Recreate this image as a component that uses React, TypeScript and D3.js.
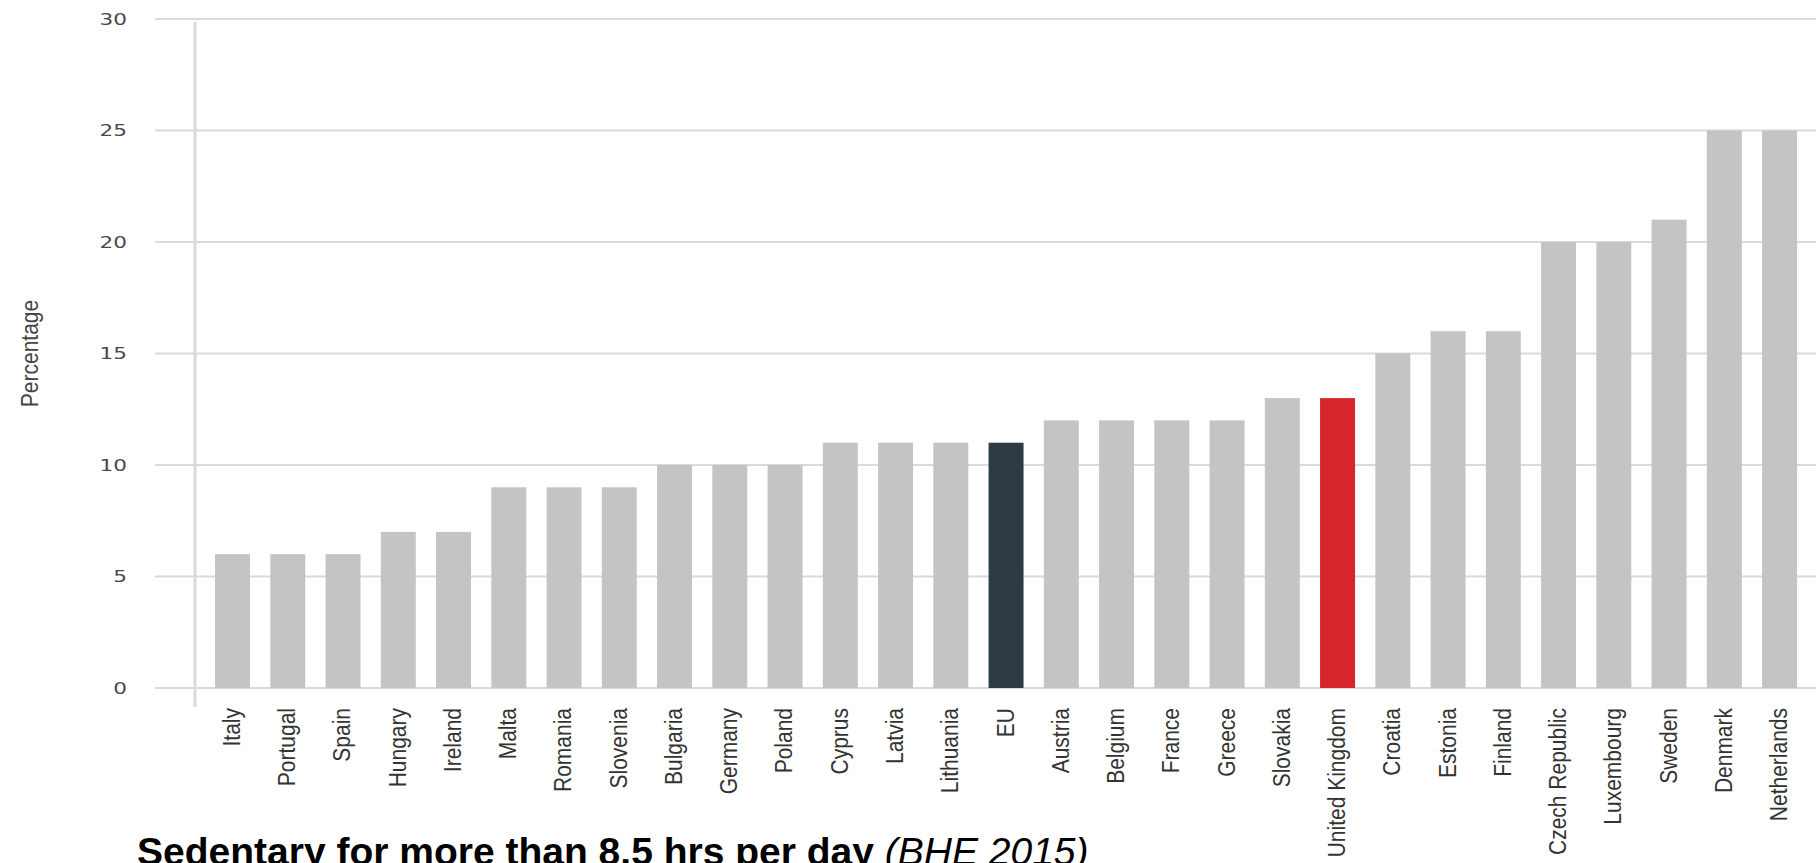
import React from "react";
import * as d3 from "d3";

const countries = [
  "Italy", "Portugal", "Spain", "Hungary", "Ireland", "Malta", "Romania", "Slovenia",
  "Bulgaria", "Germany", "Poland", "Cyprus", "Latvia", "Lithuania", "EU", "Austria",
  "Belgium", "France", "Greece", "Slovakia", "United Kingdom", "Croatia", "Estonia",
  "Finland", "Czech Republic", "Luxembourg", "Sweden", "Denmark", "Netherlands",
];
const values = [6, 6, 6, 7, 7, 9, 9, 9, 10, 10, 10, 11, 11, 11, 11, 12, 12, 12, 12, 13, 13, 15, 16, 16, 20, 20, 21, 25, 25];
const yTicks = [0, 5, 10, 15, 20, 25, 30];
const highlightNames = ["EU", "United Kingdom"];
const highlightColors = ["#2e3b45", "#d7262b"];
const baseColor = "#c4c4c4";
const yLabel = "Percentage";
const titleMain = "Sedentary for more than 8.5 hrs per day ";
const titleSource = "(BHE 2015)";

const W = 1816;
const H = 863;

export default function App() {
  const x = d3.scaleBand<string>().domain(countries).range([204.9, 1807.2]).paddingInner(0.367).paddingOuter(0.1835);
  const y = d3.scaleLinear().domain([0, 30]).range([688, 19]);
  const colorOf = (c: string) => {
    const i = highlightNames.indexOf(c);
    return i >= 0 ? highlightColors[i] : baseColor;
  };
  return (
    <svg width={W} height={H} style={{ position: "absolute", left: 0, top: 0, display: "block", background: "#fff" }}>
      {yTicks.map((t) => (
        <g key={t}>
          <line x1={155} x2={W} y1={y(t)} y2={y(t)} stroke="#dadada" strokeWidth={2} />
          <text
            transform={`translate(127,${y(t)}) scale(1.35,1)`}
            dy="0.36em"
            textAnchor="end"
            fontFamily="'DejaVu Sans', sans-serif"
            fontSize={16}
            fill="#4a4a4a"
          >
            {t}
          </text>
        </g>
      ))}
      <line x1={195} x2={195} y1={22} y2={707} stroke="#dadada" strokeWidth={3} />
      {countries.map((c, i) => (
        <rect key={c} x={x(c)} y={y(values[i])} width={x.bandwidth()} height={y(0) - y(values[i])} fill={colorOf(c)} />
      ))}
      {countries.map((c) => (
        <text
          key={"l" + c}
          transform={`translate(${(x(c) as number) + x.bandwidth() / 2 - 1},708) scale(1.15,1) rotate(-90)`}
          dy="0.35em"
          textAnchor="end"
          fontFamily="'Liberation Sans', Arial, sans-serif"
          fontSize={21}
          fill="#333"
        >
          {c}
        </text>
      ))}
      <text
        transform={`translate(30,${(y(0) + y(30)) / 2}) scale(1.1,1) rotate(-90)`}
        dy="0.35em"
        textAnchor="middle"
        fontFamily="'Liberation Sans', Arial, sans-serif"
        fontSize={21}
        fill="#444"
      >
        {yLabel}
      </text>
      <text x={137} y={865} fontFamily="'Liberation Sans', Arial, sans-serif" fontSize={39} fill="#000">
        <tspan fontWeight="bold">{titleMain}</tspan>
        <tspan fontStyle="italic">{titleSource}</tspan>
      </text>
    </svg>
  );
}
